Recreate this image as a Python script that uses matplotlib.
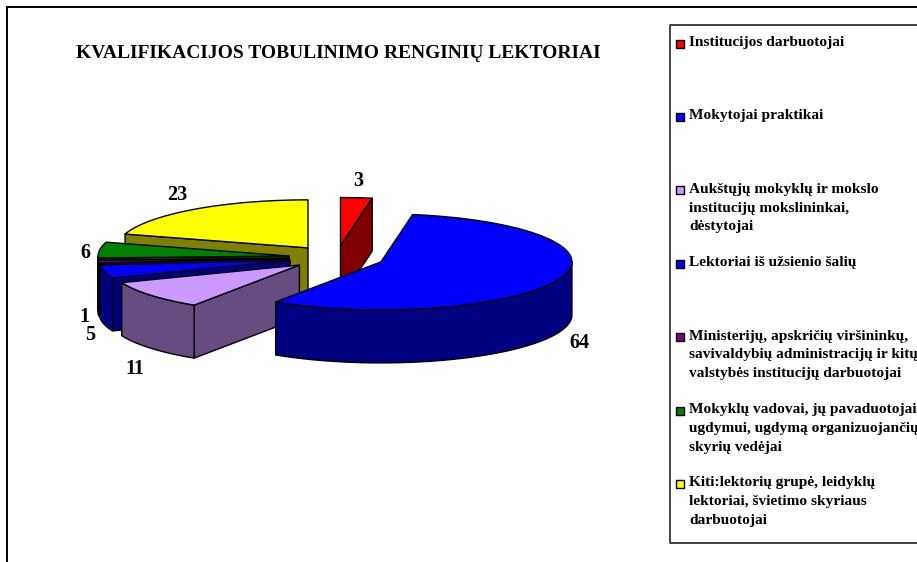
import numpy as np
import matplotlib
matplotlib.use('Agg')
import matplotlib.pyplot as plt
from matplotlib.patches import Polygon, Rectangle

plt.rcParams['font.family'] = ['Liberation Serif', 'DejaVu Serif']
plt.rcParams['font.weight'] = 'bold'

TITLE = 'KVALIFIKACIJOS TOBULINIMO RENGINIŲ LEKTORIAI'

values = [3, 64, 11, 5, 1, 6, 23]
top_colors = ['#FF0000', '#0000FF', '#CC99FF', '#0000FF', '#800080', '#008000', '#FFFF00']
side_colors = ['#800000', '#000080', '#664C80', '#000080', '#400040', '#004000', '#808000']
legend_labels = [
    'Institucijos darbuotojai',
    'Mokytojai praktikai',
    'Aukštųjų mokyklų ir mokslo\ninstitucijų mokslininkai,\ndėstytojai',
    'Lektoriai iš užsienio šalių',
    'Ministerijų, apskričių viršininkų,\nsavivaldybių administracijų ir kitų\nvalstybės institucijų darbuotojai',
    'Mokyklų vadovai, jų pavaduotojai\nugdymui, ugdymą organizuojančių\nskyrių vedėjai',
    'Kiti:lektorių grupė, leidyklų\nlektoriai, švietimo skyriaus\ndarbuotojai',
]

# where the value labels sit, in pixels
label_pos = [(358, 180.5), (579, 343.5), (135, 368.5), (90, 335), (84, 317.5), (85, 252.5), (177, 194.5)]
# back to front
draw_order = [6, 0, 5, 4, 3, 2, 1]

CX, CY = 336.5, 257.5
RX, RY = 191, 48
DEPTH = 53
EXPLODE = 0.25

fig = plt.figure(figsize=(9.17, 5.62), dpi=100)
ax = fig.add_axes([0, 0, 1, 1])
ax.set_xlim(0, 917)
ax.set_ylim(562, 0)
ax.axis('off')


def rim(x0, y0, theta):
    # theta runs clockwise from 12 o'clock, in radians
    return np.column_stack((x0 + RX*np.sin(theta), y0 - RY*np.cos(theta)))


def draw_slice(t1, t2, top, side, z):
    mid = (t1 + t2)/2.
    x0 = CX + EXPLODE*RX*np.sin(mid)
    y0 = CY - EXPLODE*RY*np.cos(mid)
    down = np.array([0, DEPTH])
    apex = np.array([x0, y0])
    style = dict(edgecolor='black', linewidth=1.0, joinstyle='round', zorder=z)

    # cut faces, only the ones turned towards us
    for t, visible in ((t1, np.sin(t1) < -1e-6), (t2, np.sin(t2) > 1e-6)):
        if visible:
            p = rim(x0, y0, np.array([t]))[0]
            ax.add_patch(Polygon([apex, p, p + down, apex + down], facecolor=side, **style))

    # outer wall, the front half of the ellipse only
    a = max(t1, np.pi/2)
    b = min(t2, 3*np.pi/2)
    if b > a:
        arc = rim(x0, y0, np.linspace(a, b, 80))
        ax.add_patch(Polygon(np.vstack((arc, (arc + down)[::-1])), facecolor=side, **style))

    arc = rim(x0, y0, np.linspace(t1, t2, 120))
    ax.add_patch(Polygon(np.vstack((apex, arc)), facecolor=top, **style))


edges = np.cumsum([0] + values)/float(sum(values))*2*np.pi
for n, i in enumerate(draw_order):
    draw_slice(edges[i], edges[i+1], top_colors[i], side_colors[i], 3 + n)

for i, (x, y) in enumerate(label_pos):
    ax.text(x, y, str(values[i]), ha='center', va='center', fontsize=14.5, color='black', zorder=20)

ax.text(338.5, 53.5, TITLE, ha='center', va='center', fontsize=14, color='black')

# chart frame, runs off the picture to the right and bottom
ax.plot([7, 7], [562, 7], color='black', lw=1.4, zorder=1)
ax.plot([7, 917], [7, 7], color='black', lw=1.4, zorder=1)

# legend box
ax.plot([917, 670, 670, 917], [25, 25, 543, 543], color='#222222', lw=1.2, zorder=1)
for i, lab in enumerate(legend_labels):
    y = 42 + 73.4*i
    ax.add_patch(Rectangle((675.5, y - 2.5), 8, 8, facecolor=top_colors[i], edgecolor='black', linewidth=1.0, zorder=5))
    ax.text(689, y - 6, lab, ha='left', va='top', fontsize=11.1, linespacing=1.58, color='black', clip_on=True)

fig.savefig('out.png', dpi=100)
